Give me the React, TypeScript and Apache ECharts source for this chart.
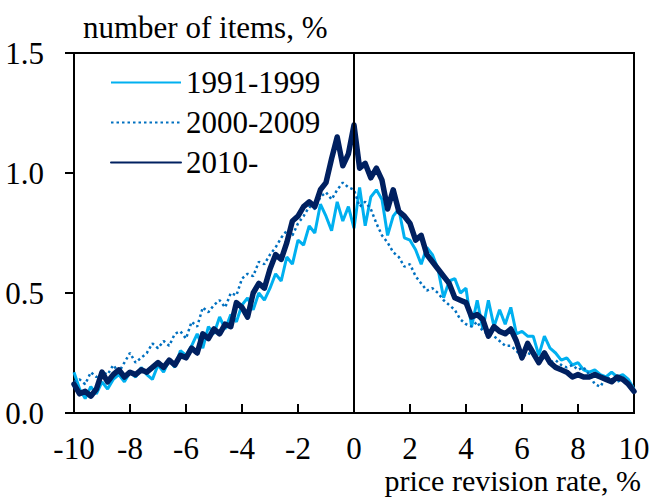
import React, { useEffect, useRef } from "react";
import * as echarts from "echarts";

// price revision rate grid (%), step 0.2 from -10 to 10
const rates: number[] = Array.from({ length: 101 }, (_, i) => Math.round((-10 + i * 0.2) * 10) / 10);

const s1991: number[] = [
  0.17, 0.10, 0.06, 0.11, 0.08, 0.13, 0.10, 0.14, 0.16, 0.13,
  0.17, 0.15, 0.19, 0.16, 0.14, 0.20, 0.17, 0.22, 0.19, 0.26,
  0.24, 0.28, 0.33, 0.27, 0.36, 0.33, 0.40, 0.35, 0.41, 0.38,
  0.45, 0.48, 0.43, 0.50, 0.47, 0.52, 0.58, 0.55, 0.65, 0.62,
  0.72, 0.70, 0.78, 0.75, 0.87, 0.82, 0.76, 0.88, 0.80, 0.86,
  0.77,
  0.94, 0.78, 0.90, 0.93, 0.89, 0.74, 0.82, 0.85, 0.73, 0.72,
  0.68, 0.62, 0.69, 0.66, 0.60, 0.48, 0.55, 0.56, 0.50, 0.52,
  0.36, 0.47, 0.35, 0.47, 0.36, 0.43, 0.37, 0.44, 0.33, 0.34,
  0.32, 0.32, 0.24, 0.32, 0.27, 0.25, 0.22, 0.23, 0.20, 0.21,
  0.18, 0.17, 0.18, 0.16, 0.15, 0.17, 0.15, 0.16, 0.14, 0.10,
];

const s2000: number[] = [
  0.13, 0.14, 0.12, 0.17, 0.15, 0.17, 0.16, 0.20, 0.17, 0.21,
  0.25, 0.21, 0.23, 0.25, 0.29, 0.27, 0.30, 0.28, 0.33, 0.34,
  0.31, 0.38, 0.36, 0.44, 0.42, 0.45, 0.47, 0.44, 0.50, 0.49,
  0.56, 0.58, 0.57, 0.63, 0.62, 0.66, 0.69, 0.73, 0.76, 0.74,
  0.79, 0.82, 0.86, 0.85, 0.90, 0.92, 0.89, 0.93, 0.96, 0.94,
  0.93,
  0.86, 0.88, 0.85, 0.79, 0.74, 0.71, 0.67, 0.65, 0.61, 0.62,
  0.57, 0.54, 0.51, 0.52, 0.50, 0.47, 0.45, 0.43, 0.39, 0.37,
  0.36, 0.38, 0.34, 0.33, 0.32, 0.30, 0.28, 0.28, 0.26, 0.23,
  0.25, 0.24, 0.22, 0.23, 0.21, 0.22, 0.20, 0.19, 0.20, 0.18,
  0.19, 0.16, 0.12, 0.11, 0.15, 0.14, 0.13, 0.14, 0.12, 0.10,
];

const s2010: number[] = [
  0.12, 0.08, 0.09, 0.07, 0.10, 0.17, 0.13, 0.16, 0.18, 0.15,
  0.17, 0.16, 0.18, 0.17, 0.19, 0.21, 0.19, 0.22, 0.20, 0.24,
  0.23, 0.27, 0.25, 0.33, 0.31, 0.35, 0.33, 0.37, 0.36, 0.46,
  0.44, 0.40, 0.50, 0.54, 0.52, 0.60, 0.66, 0.64, 0.71, 0.80,
  0.82, 0.86, 0.88, 0.86, 0.93, 0.96, 1.06, 1.15, 1.03, 1.08,
  1.20,
  1.02, 1.04, 0.98, 1.02, 0.97, 0.85, 0.93, 0.84, 0.82, 0.79,
  0.72, 0.74, 0.66, 0.63, 0.60, 0.57, 0.54, 0.48, 0.47, 0.46,
  0.40, 0.41, 0.39, 0.32, 0.36, 0.34, 0.33, 0.35, 0.30, 0.23,
  0.29, 0.25, 0.21, 0.25, 0.21, 0.19, 0.18, 0.17, 0.15, 0.16,
  0.15, 0.15, 0.16, 0.15, 0.14, 0.13, 0.15, 0.14, 0.12, 0.09,
];

const seriesNames: string[] = ["1991-1999", "2000-2009", "2010-"];
const yTicks: string[] = ["0.0", "0.5", "1.0", "1.5"];
const yTitle = "number of items, %";
const xTitle = "price revision rate, %";

const FONT = "Liberation Serif";
const FS = 31;

const pairs = (vals: number[]) => vals.map((v, i) => [rates[i], v]);

export default function App() {
  const ref = useRef<HTMLDivElement>(null);
  useEffect(() => {
    if (!ref.current) return;
    const chart = echarts.init(ref.current, undefined, { renderer: "svg" });
    chart.setOption({
      animation: false,
      backgroundColor: "#fff",
      grid: {
        left: 74,
        right: 19,
        top: 53,
        bottom: 86,
        show: true,
        borderColor: "#000",
        borderWidth: 2,
        backgroundColor: "transparent",
      },
      legend: {
        orient: "vertical",
        left: 105,
        top: 62,
        itemWidth: 70,
        itemHeight: 20,
        itemGap: 9,
        data: seriesNames,
        itemStyle: { opacity: 0 },
        textStyle: { fontFamily: FONT, fontSize: FS, color: "#000" },
      },
      xAxis: {
        type: "value",
        min: -10,
        max: 10,
        interval: 2,
        axisLine: { show: true, onZero: false, lineStyle: { color: "#000", width: 2 } },
        axisTick: { show: true, inside: true, length: 9, lineStyle: { color: "#000", width: 2 } },
        splitLine: { show: false },
        axisLabel: { fontFamily: FONT, fontSize: FS, lineHeight: 26, color: "#000", margin: 22 },
      },
      yAxis: {
        type: "value",
        min: 0,
        max: 1.5,
        interval: 0.5,
        axisLine: { show: true, onZero: false, lineStyle: { color: "#000", width: 2 } },
        axisTick: { show: true, inside: false, length: 9, lineStyle: { color: "#000", width: 2 } },
        splitLine: { show: false },
        axisLabel: {
          fontFamily: FONT,
          fontSize: FS,
          color: "#000",
          margin: 30,
          formatter: (v: number) => yTicks[Math.round(v / 0.5)] ?? String(v),
        },
      },
      graphic: [
        {
          type: "text",
          left: 83,
          top: 12,
          style: { text: yTitle, fontFamily: FONT, fontSize: FS, lineHeight: 28, fill: "#000" },
        },
        {
          type: "text",
          right: 12,
          top: 465,
          style: { text: xTitle, fontFamily: FONT, fontSize: 30, lineHeight: 28, fill: "#000" },
        },
      ],
      series: [
        {
          name: seriesNames[0],
          type: "line",
          data: pairs(s1991),
          symbol: "none",
          lineStyle: { color: "#00B0F0", width: 3 },
          itemStyle: { color: "#00B0F0" },
          z: 2,
        },
        {
          name: seriesNames[1],
          type: "line",
          data: pairs(s2000),
          symbol: "none",
          lineStyle: { color: "#0070C0", width: 2.5, type: [2.5, 3] },
          itemStyle: { color: "#0070C0" },
          z: 3,
        },
        {
          name: seriesNames[2],
          type: "line",
          data: pairs(s2010),
          symbol: "none",
          lineStyle: { color: "#002060", width: 5.5, join: "round", cap: "round" },
          itemStyle: { color: "#002060" },
          z: 4,
          markLine: {
            silent: true,
            symbol: "none",
            label: { show: false },
            lineStyle: { color: "#000", width: 2, type: "solid" },
            data: [{ xAxis: 0 }],
            z: 5,
          },
        },
      ],
    });
    return () => chart.dispose();
  }, []);
  return (
    <div
      ref={ref}
      style={{ position: "absolute", left: 0, top: 0, width: 653, height: 499 }}
    />
  );
}
